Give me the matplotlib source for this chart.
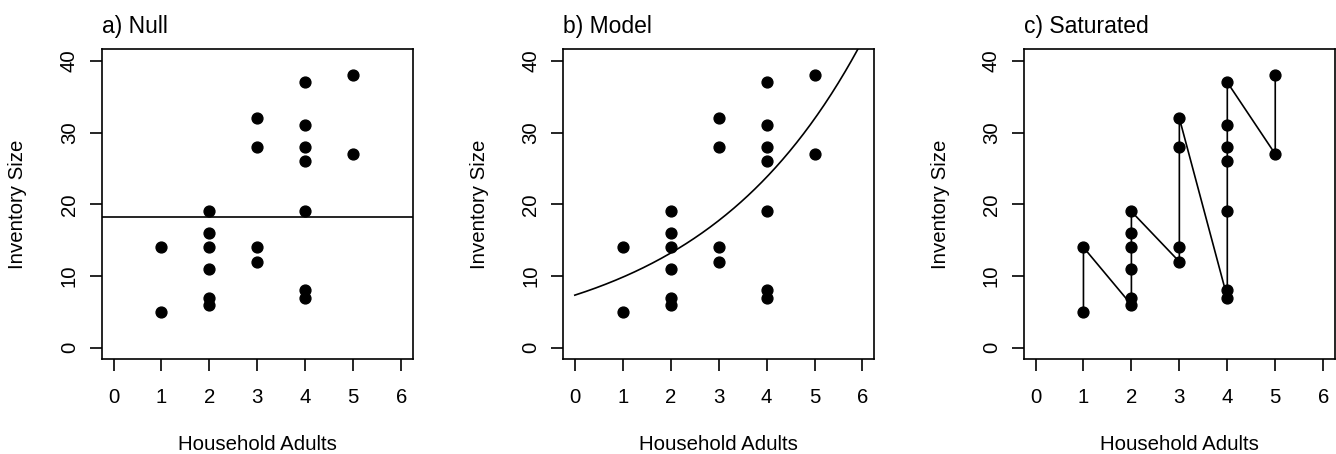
import numpy as np
import matplotlib
matplotlib.use("Agg")
import matplotlib.pyplot as plt

plt.rcParams['font.family'] = ['Liberation Sans', 'DejaVu Sans']

# Data
adults = [1, 1, 2, 2, 2, 2, 2, 2, 3, 3, 3, 3, 4, 4, 4, 4, 4, 4, 4, 5, 5]
inventory = [5, 14, 6, 7, 11, 14, 16, 19, 12, 14, 28, 32, 7, 8, 19, 26, 28, 31, 37, 27, 38]

null_level = 18.2            # null model fitted mean
model_intercept = 1.993      # log-link intercept of model curve
model_slope = 0.294          # log-link slope of model curve

titles = ["a) Null", "b) Model", "c) Saturated"]
x_ticks = [0, 1, 2, 3, 4, 5, 6]
y_ticks = [0, 10, 20, 30, 40]

W, H = 1336, 454
fig = plt.figure(figsize=(W / 100, H / 100), dpi=100)

lefts = [102, 563.3, 1024]
frame_w = 310.7
frame_top, frame_bot = 49.3, 359.3
frame_h = frame_bot - frame_top
FS = 14.7
LW = 1.2

for i, left in enumerate(lefts):
    ax = fig.add_axes([left / W, (H - frame_bot) / H, frame_w / W, frame_h / H])
    ax.set_xlim(-0.24, 6.24)
    ax.set_ylim(-1.6, 41.6)
    for sp in ax.spines.values():
        sp.set_linewidth(LW)
        sp.set_color('black')
    ax.set_xticks(x_ticks)
    ax.set_yticks(y_ticks)
    ax.tick_params(direction='out', length=8.6, width=LW, labelsize=FS,
                   colors='black')
    ax.tick_params(axis='x', pad=12)
    ax.tick_params(axis='y', pad=8, labelrotation=90)
    for lab in ax.get_yticklabels():
        lab.set_va('center')

    if i == 2:
        ax.plot(adults, inventory, '-', color='black', lw=LW, zorder=2)
    ax.plot(adults, inventory, 'o', color='black', markersize=7.8, zorder=3)

    if i == 0:
        ax.axhline(null_level, color='black', lw=LW)
    elif i == 1:
        xs = np.linspace(0, 6.2, 300)
        ax.plot(xs, np.exp(model_intercept + model_slope * xs), color='black', lw=LW)

    ax.set_xlabel("Household Adults", fontsize=FS)
    ax.set_ylabel("Inventory Size", fontsize=FS)
    ax.xaxis.set_label_coords(0.5, (frame_bot - 445) / frame_h)
    ax.xaxis.label.set_va('center')
    ax.yaxis.set_label_coords(-84 / frame_w, 0.5)
    ax.yaxis.label.set_va('center')

    ax.text(0, 1 + (frame_top - 33.3) / frame_h, titles[i], transform=ax.transAxes,
            fontsize=16.5, ha='left', va='baseline')

fig.savefig("out.png", dpi=100)
